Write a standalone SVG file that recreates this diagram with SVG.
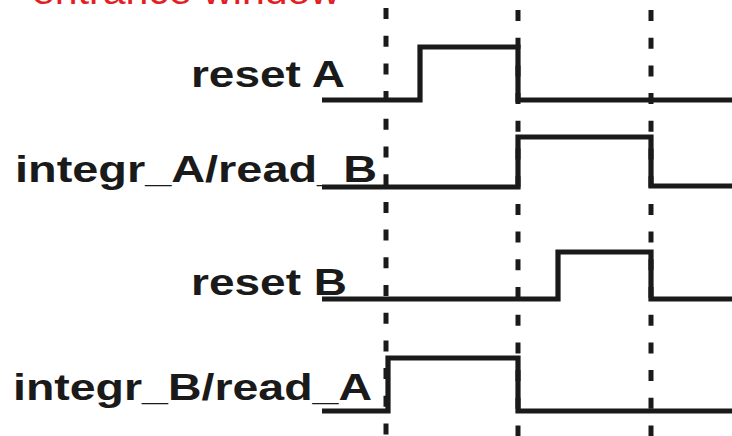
<svg xmlns="http://www.w3.org/2000/svg" width="732" height="436" viewBox="0 0 732 436">
<style>
.lbl{font-family:"Liberation Sans",Arial,sans-serif;font-weight:bold;font-size:37.5px;fill:#1a1a1a}
.ttl{font-family:"Liberation Sans",Arial,sans-serif;font-size:37px;fill:#e31e24}
.sig{fill:none;stroke:#1a1a1a;stroke-width:5.2;stroke-linejoin:miter;stroke-linecap:butt}
.grid{stroke:#1a1a1a;stroke-width:5;stroke-dasharray:11 16.7}
</style>
<rect width="732" height="436" fill="#ffffff"/>
<text class="ttl" x="32" y="4" textLength="308" lengthAdjust="spacingAndGlyphs">entrance window</text>
<g id="connectors">
<line class="grid" x1="386" y1="8" x2="386" y2="436"/>
<line class="grid" x1="518" y1="10" x2="518" y2="436"/>
<line class="grid" x1="651" y1="10" x2="651" y2="436"/>
</g>
<g id="resetA">
<text class="lbl" x="191" y="87" textLength="154" lengthAdjust="spacingAndGlyphs">reset A</text>
<path class="sig" d="M322,100 H420 V47 H518 V100 H732"/>
</g>
<g id="integrA">
<text class="lbl" x="15" y="182" textLength="362" lengthAdjust="spacingAndGlyphs">integr_A/read_B</text>
<path class="sig" d="M322,187 H518 V137 H651 V186 H732"/>
</g>
<g id="resetB">
<text class="lbl" x="191" y="295" textLength="156" lengthAdjust="spacingAndGlyphs">reset B</text>
<path class="sig" d="M322,299 H558 V252 H651 V299 H732"/>
</g>
<g id="integrB">
<text class="lbl" x="13" y="400" textLength="359" lengthAdjust="spacingAndGlyphs">integr_B/read_A</text>
<path class="sig" d="M322,411 H388 V358 H518 V411 H732"/>
</g>
</svg>
